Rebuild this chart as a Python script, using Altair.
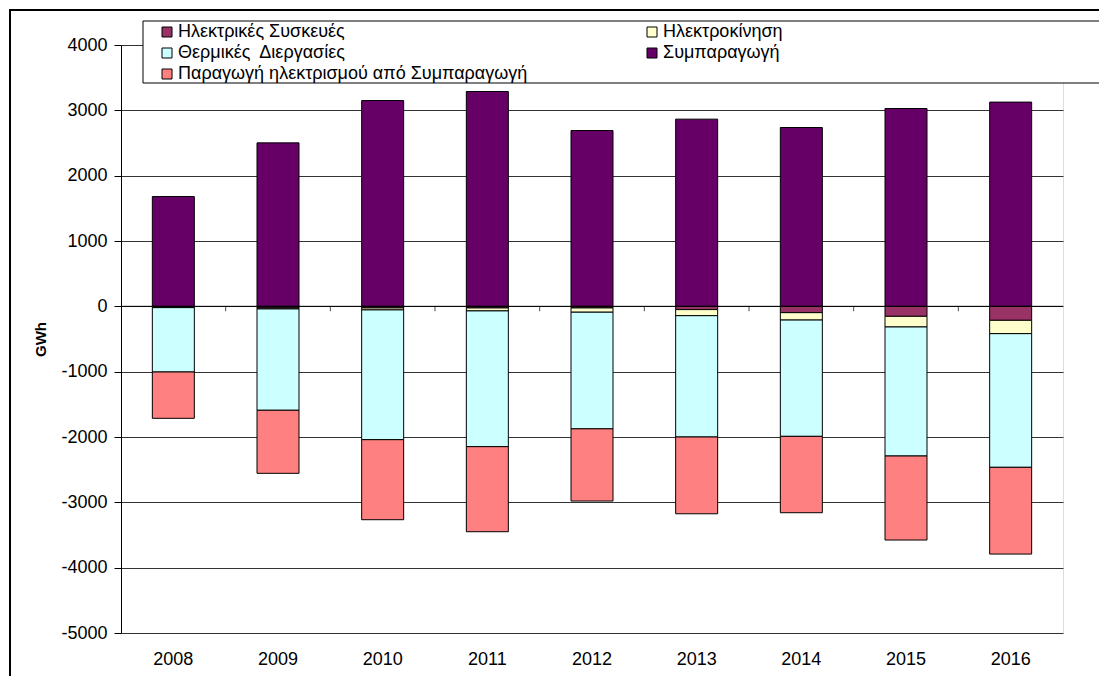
import altair as alt
import pandas as pd

years = ["2008", "2009", "2010", "2011", "2012", "2013", "2014", "2015", "2016"]
series = [
    "Ηλεκτρικές Συσκευές",
    "Ηλεκτροκίνηση",
    "Θερμικές\u00a0 Διεργασίες",
    "Συμπαραγωγή",
    "Παραγωγή ηλεκτρισμού από Συμπαραγωγή",
]
colors = ["#993366", "#FFFFCC", "#CCFFFF", "#660066", "#FF8080"]

appliances = [-15, -25, -25, -25, -25, -50, -97, -153, -214]
emobility = [-5, -15, -30, -45, -65, -93, -113, -163, -204]
thermal = [-985, -1551, -1986, -2078, -1785, -1857, -1780, -1975, -2046]
chp = [1680, 2502, 3150, 3288, 2691, 2865, 2737, 3028, 3126]
chp_power = [-709, -965, -1225, -1302, -1105, -1175, -1169, -1286, -1328]

stack_order = [0, 1, 2, 0, 3]
values = [appliances, emobility, thermal, chp, chp_power]

rows = []
for s, o, vals in zip(series, stack_order, values):
    for y, v in zip(years, vals):
        rows.append({"year": y, "series": s, "ord": o, "value": v})
df = pd.DataFrame(rows)

# category boundaries on the zero line (category-axis tick marks)
ticks_df = pd.DataFrame({"b": list(range(1, len(years))), "z": [0] * (len(years) - 1)})

W, H = 942, 588
FONT = "Liberation Sans"

y_scale = alt.Scale(domain=[-5000, 4000], nice=False)

bars = alt.Chart(df).mark_bar(size=42, stroke="black", strokeWidth=1).encode(
    x=alt.X("year:N", sort=years, title=None,
            scale=alt.Scale(paddingInner=0.6, paddingOuter=0.3),
            axis=alt.Axis(labelAngle=0, ticks=False, domain=False, grid=False,
                          labelFontSize=18, labelPadding=17, labelColor="black",
                          labelFont=FONT)),
    y=alt.Y("value:Q", title="GWh", scale=y_scale,
            axis=alt.Axis(values=list(range(-5000, 4001, 1000)),
                          labelExpr="'' + datum.value",
                          grid=True, gridColor="#333333", gridWidth=1,
                          domainColor="black", tickColor="black", tickSize=7,
                          labelFontSize=18, labelColor="black", labelPadding=7,
                          labelFont=FONT, titleFont=FONT, titleFontSize=15,
                          titleFontWeight="bold", titlePadding=12, titleColor="black")),
    color=alt.Color("series:N", sort=series,
                    scale=alt.Scale(domain=series, range=colors),
                    legend=alt.Legend(title=None, orient="none", legendX=37, legendY=-22,
                                      direction="horizontal",
                                      columns=2, columnPadding=115, rowPadding=3,
                                      symbolType="square", symbolSize=100,
                                      symbolStrokeColor="black", symbolStrokeWidth=1,
                                      labelFontSize=18, labelFont=FONT, labelColor="black",
                                      labelLimit=600, labelOffset=2)),
    order=alt.Order("ord:Q"),
)

zero = alt.Chart(pd.DataFrame({"z": [0]})).mark_rule(color="black", strokeWidth=1).encode(
    y=alt.Y("z:Q", scale=y_scale)
)

cat_ticks = alt.Chart(ticks_df).mark_tick(
    color="black", size=5, thickness=1, orient="vertical", yOffset=2.5
).encode(
    x=alt.X("b:Q", scale=alt.Scale(domain=[0, len(years)], nice=False, zero=False), axis=None),
    y=alt.Y("z:Q", scale=y_scale),
)

legend_box = alt.Chart(pd.DataFrame({"a": [0]})).mark_rect(
    fill="white", stroke="black", strokeWidth=1
).encode(
    x=alt.value(22), x2=alt.value(979), y=alt.value(-24), y2=alt.value(38)
)

frame = alt.Chart(pd.DataFrame({"a": [0]})).mark_rect(
    fill=None, stroke="black", strokeWidth=2
).encode(
    x=alt.value(-111), x2=alt.value(1200), y=alt.value(-35), y2=alt.value(800)
)

chart = alt.layer(bars, zero, cat_ticks, legend_box, frame).resolve_scale(
    x="independent"
).properties(
    width=W, height=H,
    autosize=alt.AutoSizeParams(type="none"),
    padding={"left": 113, "top": 37, "right": 36, "bottom": 43},
).configure_view(stroke="#808080", strokeWidth=1).configure(
    font=FONT
)

chart.save("out.html", embed_options={"renderer": "svg", "actions": False})
